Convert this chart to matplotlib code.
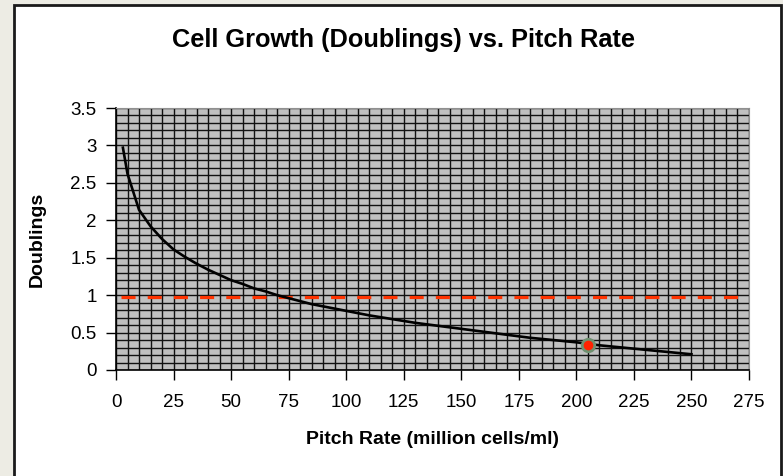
import matplotlib.pyplot as plt
from matplotlib.patches import Rectangle
from matplotlib.ticker import MultipleLocator

plt.rcParams['font.family'] = ['Liberation Sans', 'DejaVu Sans']

# curve
pitch = [3, 5, 10, 15, 20, 25, 30, 35, 40, 45, 50, 55, 60, 65, 70, 75, 80, 85, 90, 95,
         100, 110, 120, 130, 140, 150, 160, 170, 180, 190, 200, 210, 220, 230, 240, 250]
doublings = [2.97, 2.62, 2.14, 1.92, 1.75, 1.61, 1.51, 1.42, 1.34, 1.27, 1.20, 1.15, 1.09,
             1.05, 1.00, 0.96, 0.92, 0.88, 0.85, 0.82, 0.79, 0.73, 0.68, 0.63, 0.59, 0.55,
             0.51, 0.47, 0.43, 0.40, 0.37, 0.33, 0.30, 0.27, 0.24, 0.21]

# reference line and highlighted point
ref_x = [2, 275]
ref_y = [0.975, 0.975]
point_x = [205]
point_y = [0.34]

fig = plt.figure(figsize=(7.83, 4.76), dpi=100)
fig.patch.set_facecolor('#EDECE4')
fig.patches.append(Rectangle((14 / 783, -0.02), 767 / 783, 1 - 5 / 476 + 0.02,
                             transform=fig.transFigure, facecolor='white',
                             edgecolor='#1a1a1a', linewidth=2, zorder=-10))

ax = fig.add_axes([116 / 783, 1 - 370 / 476, 633 / 783, 262 / 476])
ax.set_zorder(1)
ax.set_facecolor('#C0C0C0')

ax.set_xlim(0, 275)
ax.set_ylim(0, 3.5)
ax.xaxis.set_major_locator(MultipleLocator(25))
ax.xaxis.set_minor_locator(MultipleLocator(5))
ax.yaxis.set_major_locator(MultipleLocator(0.5))
ax.yaxis.set_minor_locator(MultipleLocator(0.1))
ax.yaxis.set_major_formatter(plt.FuncFormatter(lambda v, p: f'{v:g}'))

ax.grid(True, which='both', color='#111111', linewidth=1.0)
ax.set_axisbelow(True)

ax.tick_params(which='major', direction='out', length=7, width=1, labelsize=13.5,
               color='black')
ax.tick_params(axis='x', which='major', pad=10)
ax.tick_params(axis='y', which='major', pad=7)
ax.tick_params(which='minor', length=0)

for s in ['top', 'right']:
    ax.spines[s].set_color('#909090')
for s in ['left', 'bottom']:
    ax.spines[s].set_color('black')
    ax.spines[s].set_linewidth(1.2)

ax.plot(ref_x, ref_y, color='#FF3300', linewidth=2.3, dashes=(4.4, 3.8), zorder=3,
        clip_on=False)
ax.plot(pitch, doublings, color='black', linewidth=1.9, zorder=4)
ax.plot(point_x, point_y, marker='o', markersize=9, markerfacecolor='#FF2200',
        markeredgecolor='#6E9070', markeredgewidth=2, zorder=5)

fig.text(403 / 783, 1 - 40 / 476, 'Cell Growth (Doublings) vs. Pitch Rate',
         fontsize=18.3, fontweight='bold', ha='center', va='center')
ax.set_xlabel('Pitch Rate (million cells/ml)', fontsize=14, fontweight='bold')
ax.xaxis.set_label_coords(0.5, -(440 - 370) / 262, transform=ax.transAxes)
ax.xaxis.label.set_va('center')
ax.set_ylabel('Doublings', fontsize=14, fontweight='bold')
ax.yaxis.set_label_coords(-(116 - 37) / 633, 0.5, transform=ax.transAxes)
ax.yaxis.label.set_va('center')

fig.savefig('out.png', dpi=100, facecolor=fig.get_facecolor())
